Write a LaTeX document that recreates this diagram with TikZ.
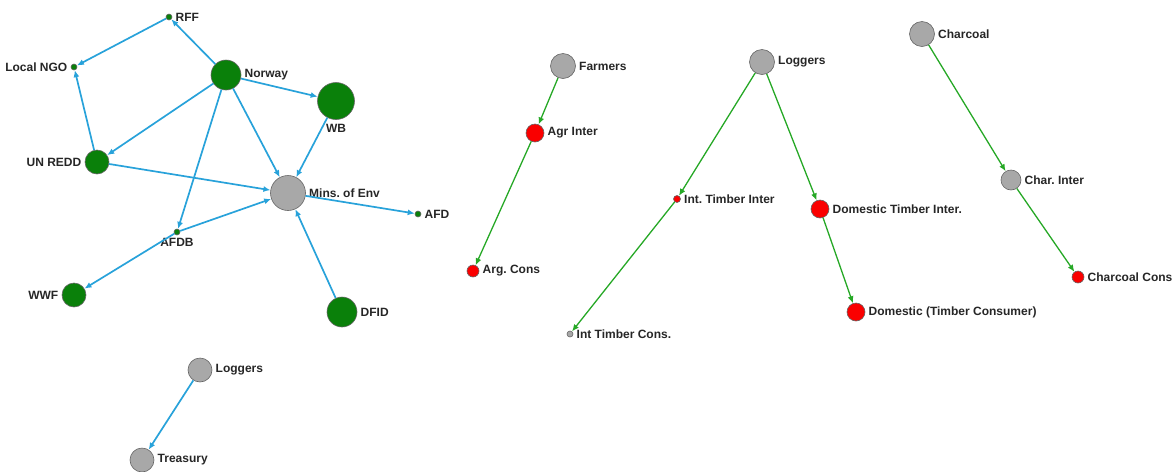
\documentclass[tikz,border=0pt]{standalone}
\usepackage{fontspec}
\setmainfont{Liberation Sans}
\usepackage{xcolor}
\usepackage{tikz}
\usetikzlibrary{arrows.meta,positioning}

\definecolor{nodegreen}{RGB}{10,128,10}
\definecolor{nodegray}{RGB}{168,168,168}
\definecolor{nodered}{RGB}{250,0,0}
\definecolor{linkblue}{RGB}{40,162,218}
\definecolor{linkgreen}{RGB}{38,168,38}

\frenchspacing
\begin{document}
\begin{tikzpicture}[
    x=0.5pt, y=-0.5pt,
    actor/.style={circle, draw=black!60, line width=0.3pt, inner sep=0pt},
    donor/.style={actor, fill=nodegreen},
    gov/.style={actor, fill=nodegray},
    trader/.style={actor, fill=nodered},
    lbl/.style={inner sep=0.5pt, font=\fontsize{6}{7}\selectfont\bfseries, text=black!85},
    aid/.style={-{Latex[length=3.5pt,width=3pt]}, linkblue, line width=0.85pt},
    flow/.style={-{Latex[length=3.5pt,width=3pt]}, linkgreen, line width=0.65pt}
  ]
    \useasboundingbox (0,0) rectangle (1175,472);

    % Donors and ministry
    \node[donor, minimum size=3pt] (rff) at (169,17) {};
    \node[lbl, right=1pt of rff] (rffT) {RFF};
    \node[donor, minimum size=3pt] (ngo) at (74,67) {};
    \node[lbl, left=1pt of ngo] (ngoT) {Local NGO};
    \node[donor, minimum size=15pt] (nor) at (226,75) {};
    \node[lbl, right=1pt of nor] (norT) {Norway};
    \node[donor, minimum size=18.5pt] (wb) at (336,101) {};
    \node[lbl, below=1.5pt of wb] (wbT) {WB};
    \node[donor, minimum size=12pt] (unredd) at (97,162) {};
    \node[lbl, left=1pt of unredd] (unreddT) {UN REDD};
    \node[gov, minimum size=17.5pt] (mins) at (288,193) {};
    \node[lbl, right=1pt of mins] (minsT) {Mins. of Env};
    \node[donor, minimum size=3pt] (afd) at (418,214) {};
    \node[lbl, right=1pt of afd] (afdT) {AFD};
    \node[donor, minimum size=3pt] (afdb) at (177,232) {};
    \node[lbl, below=1pt of afdb] (afdbT) {AFDB};
    \node[donor, minimum size=12pt] (wwf) at (74,295) {};
    \node[lbl, left=1pt of wwf] (wwfT) {WWF};
    \node[donor, minimum size=15pt] (dfid) at (342,312) {};
    \node[lbl, right=1pt of dfid] (dfidT) {DFID};

    \draw[aid] (nor) -- (rff);
    \draw[aid] (rff) -- (ngo);
    \draw[aid] (unredd) -- (ngo);
    \draw[aid] (nor) -- (unredd);
    \draw[aid] (nor) -- (wb);
    \draw[aid] (nor) -- (mins);
    \draw[aid] (nor) -- (afdb);
    \draw[aid] (wb) -- (mins);
    \draw[aid] (unredd) -- (mins);
    \draw[aid] (afdb) -- (mins);
    \draw[aid] (mins) -- (afd);
    \draw[aid] (afdb) -- (wwf);
    \draw[aid] (dfid) -- (mins);

    % Loggers and treasury
    \node[gov, minimum size=12pt] (logA) at (200,370) {};
    \node[lbl, right=1pt of logA] (logAT) {Loggers};
    \node[gov, minimum size=12pt] (treas) at (142,460) {};
    \node[lbl, right=1pt of treas] (treasT) {Treasury};
    \draw[aid] (logA) -- (treas);

    % Agriculture chain
    \node[gov, minimum size=12.5pt] (farm) at (563,66) {};
    \node[lbl, right=1pt of farm] (farmT) {Farmers};
    \node[trader, minimum size=9pt] (agri) at (535,133) {};
    \node[lbl, right=1pt of agri] (agriT) {Agr Inter};
    \node[trader, minimum size=6pt] (agrc) at (473,271) {};
    \node[lbl, right=1pt of agrc] (agrcT) {Arg. Cons};
    \draw[flow] (farm) -- (agri);
    \draw[flow] (agri) -- (agrc);

    % Timber chain
    \node[gov, minimum size=12.5pt] (logB) at (762,62) {};
    \node[lbl, right=1pt of logB] (logBT) {Loggers};
    \node[trader, minimum size=3.5pt] (iti) at (677,199) {};
    \node[lbl, right=1pt of iti] (itiT) {Int. Timber Inter};
    \node[gov, minimum size=3pt] (itc) at (570,334) {};
    \node[lbl, right=1pt of itc] (itcT) {Int Timber Cons.};
    \node[trader, minimum size=9pt] (dti) at (820,209) {};
    \node[lbl, right=1pt of dti] (dtiT) {Domestic Timber Inter.};
    \node[trader, minimum size=9pt] (dtc) at (856,312) {};
    \node[lbl, right=1pt of dtc] (dtcT) {Domestic (Timber Consumer)};
    \draw[flow] (logB) -- (iti);
    \draw[flow] (iti) -- (itc);
    \draw[flow] (logB) -- (dti);
    \draw[flow] (dti) -- (dtc);

    % Charcoal chain
    \node[gov, minimum size=12.5pt] (char) at (922,34) {};
    \node[lbl, right=1pt of char] (charT) {Charcoal};
    \node[gov, minimum size=10pt] (chi) at (1011,180) {};
    \node[lbl, right=1pt of chi] (chiT) {Char. Inter};
    \node[trader, minimum size=6pt] (chc) at (1078,277) {};
    \node[lbl, right=1pt of chc] (chcT) {Charcoal Cons};
    \draw[flow] (char) -- (chi);
    \draw[flow] (chi) -- (chc);
\end{tikzpicture}
\end{document}
